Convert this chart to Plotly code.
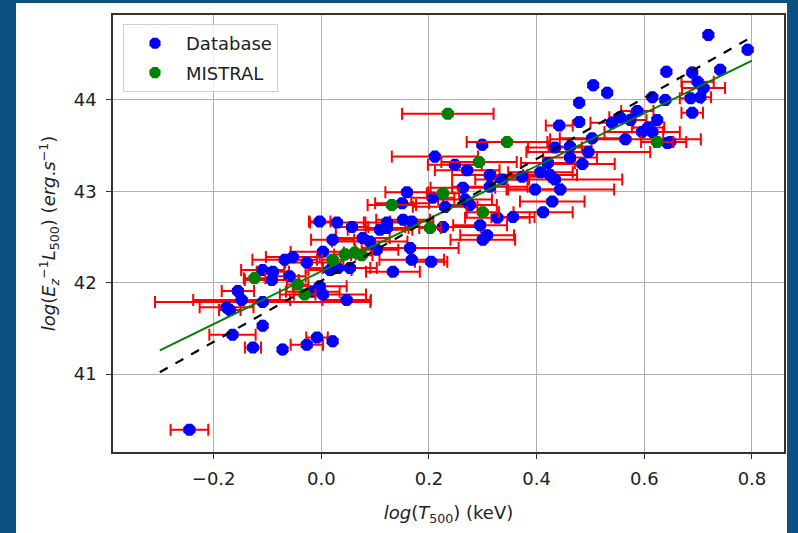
import plotly.graph_objects as go

# ---- Database points (log T500, log L500) ----
db_x = [-0.245, -0.155, -0.170, -0.165, -0.127, -0.109, -0.109, -0.072, -0.027, -0.008,
        0.021, -0.016, 0.003, 0.047, -0.148, -0.176, -0.092, -0.109, -0.090, -0.068,
        -0.053, -0.027, -0.059, -0.003, 0.003, 0.021, -0.003, 0.029, 0.057, 0.109,
        0.122, 0.152, 0.168, 0.077, 0.090, 0.103, 0.053, 0.016, 0.031, 0.165,
        0.168, 0.133, 0.159, 0.204, 0.299, 0.211, 0.248, 0.271, 0.313, 0.336,
        0.373, 0.207, 0.263, 0.267, 0.313, 0.150, 0.230, 0.276, 0.327, 0.356,
        0.226, 0.295, 0.308, 0.122, 0.300, 0.505, 0.531, 0.479, 0.479, 0.442,
        0.641, 0.615, 0.639, 0.587, 0.555, 0.540, 0.574, 0.624, 0.607, 0.596,
        0.615, 0.565, 0.643, 0.503, 0.462, 0.434, 0.496, 0.462, 0.485, 0.421,
        0.407, 0.425, 0.434, 0.397, 0.444, 0.429, 0.412, 0.719, 0.792, 0.741,
        0.689, 0.699, 0.710, 0.704, 0.686, 0.689, 0.648]
db_y = [40.39, 41.91, 41.70, 41.43, 41.29, 41.53, 41.79, 41.27, 41.32, 41.40,
        41.36, 41.90, 41.87, 41.81, 41.81, 41.73, 42.03, 42.14, 42.12, 42.25,
        42.28, 42.22, 42.07, 41.96, 42.34, 42.47, 42.67, 42.66, 42.61, 42.58,
        42.66, 42.69, 42.67, 42.49, 42.45, 42.36, 42.16, 42.14, 42.16, 42.38,
        42.25, 42.12, 42.99, 42.23, 43.51, 43.38, 43.29, 43.23, 43.18, 43.13,
        43.16, 42.93, 43.04, 42.91, 43.05, 42.87, 42.83, 42.85, 42.71, 42.72,
        42.61, 42.63, 42.52, 42.60, 42.47, 44.16, 44.08, 43.97, 43.76, 43.72,
        44.31, 44.03, 44.00, 43.88, 43.81, 43.75, 43.78, 43.78, 43.70, 43.65,
        43.65, 43.57, 43.53, 43.58, 43.49, 43.48, 43.43, 43.37, 43.30, 43.31,
        43.21, 43.18, 43.13, 43.02, 43.02, 42.89, 42.77, 44.71, 44.55, 44.33,
        44.30, 44.20, 44.13, 44.03, 44.02, 43.86, 43.54]
db_xerr = [0.035, 0.030, 0.020, 0.043, 0.015, 0.0, 0.200, 0.0, 0.030, 0.020,
           0.0, 0.050, 0.080, 0.045, 0.090, 0.050, 0.050, 0.040, 0.030, 0.060,
           0.050, 0.040, 0.030, 0.050, 0.060, 0.040, 0.020, 0.050, 0.030, 0.060,
           0.040, 0.050, 0.040, 0.050, 0.070, 0.040, 0.050, 0.040, 0.060, 0.090,
           0.060, 0.050, 0.040, 0.030, 0.0, 0.080, 0.050, 0.060, 0.070, 0.050,
           0.050, 0.040, 0.060, 0.050, 0.070, 0.050, 0.060, 0.050, 0.060, 0.040,
           0.070, 0.050, 0.050, 0.040, 0.060, 0.0, 0.0, 0.0, 0.0, 0.025,
           0.0, 0.0, 0.0, 0.030, 0.020, 0.040, 0.030, 0.0, 0.030, 0.070,
           0.020, 0.140, 0.0, 0.060, 0.040, 0.050, 0.115, 0.050, 0.060, 0.050,
           0.060, 0.050, 0.125, 0.050, 0.100, 0.060, 0.055, 0.0, 0.0, 0.0,
           0.0, 0.030, 0.040, 0.020, 0.020, 0.020, 0.030]

# ---- MISTRAL points ----
mi_x = [-0.124, -0.044, -0.031, 0.021, 0.044, 0.062, 0.075, 0.131, 0.235, 0.345,
        0.293, 0.226, 0.202, 0.300, 0.624]
mi_y = [42.05, 41.98, 41.87, 42.25, 42.31, 42.33, 42.30, 42.85, 43.85, 43.54,
        43.32, 42.98, 42.60, 42.77, 43.54]
mi_xerr = [0.020, 0.020, 0.020, 0.020, 0.020, 0.020, 0.020, 0.045, 0.085, 0.075,
           0.070, 0.030, 0.020, 0.030, 0.030]

# ---- Fit lines ----
fit_x = [-0.30, 0.80]
fit_all_y = [41.02, 44.69]
fit_mistral_y = [41.26, 44.43]

x_ticks = [-0.2, 0.0, 0.2, 0.4, 0.6, 0.8]
x_ticklabels = ["−0.2", "0.0", "0.2", "0.4", "0.6", "0.8"]
y_ticks = [41, 42, 43, 44]

FONT = "DejaVu Sans"
FS = 18
TXT = "#222222"

fig = go.Figure()
fig.add_trace(go.Scatter(
    x=db_x, y=db_y, mode="markers", name="Database", legendgroup="db",
    marker=dict(symbol="octagon", size=13, color="#0000ff", line=dict(width=0)),
    error_x=dict(type="data", array=db_xerr, color="#ff0000", thickness=2, width=6),
    error_y=dict(type="constant", value=0.02, color="#ff0000", thickness=1.5, width=6),
))
fig.add_trace(go.Scatter(
    x=mi_x, y=mi_y, mode="markers", name="MISTRAL", legendgroup="mi",
    marker=dict(symbol="octagon", size=13, color="#008000", line=dict(width=0)),
    error_x=dict(type="data", array=mi_xerr, color="#ff0000", thickness=2, width=6),
    error_y=dict(type="constant", value=0.02, color="#ff0000", thickness=1.5, width=6),
))
fig.add_trace(go.Scatter(
    x=fit_x, y=fit_mistral_y, mode="lines", showlegend=False,
    line=dict(color="#008000", width=2),
))
fig.add_trace(go.Scatter(
    x=fit_x, y=fit_all_y, mode="lines", showlegend=False,
    line=dict(color="#000000", width=2.2, dash="dash"),
))

L, R, T, B = 113, 14, 15, 81
W, H = 798, 533
pw, ph = W - L - R, H - T - B

fig.update_layout(
    width=W, height=H,
    margin=dict(l=L, r=R, t=T, b=B, pad=0),
    paper_bgcolor="#0b5283",
    plot_bgcolor="#ffffff",
    font=dict(family=FONT, size=FS, color=TXT),
    showlegend=True,
    legend=dict(
        x=(123 - L) / pw, y=(H - B - 24) / ph, xanchor="left", yanchor="top",
        bgcolor="rgba(255,255,255,0.8)", bordercolor="#d0d0d0", borderwidth=1,
        font=dict(family=FONT, size=FS, color=TXT),
        itemsizing="constant", itemwidth=52,
        traceorder="grouped", tracegroupgap=3,
    ),
    shapes=[dict(
        type="rect", xref="paper", yref="paper", layer="below",
        x0=(16 - L) / pw, x1=(787 - L) / pw, y0=-0.3, y1=(H - B - 3) / ph,
        fillcolor="#ffffff", line=dict(width=0),
    )],
)
fig.update_xaxes(
    range=[-0.387, 0.8595], tickvals=x_ticks, ticktext=x_ticklabels,
    showgrid=True, gridcolor="#b0b0b0", gridwidth=1, zeroline=False,
    showline=True, linecolor="#333333", linewidth=1.5, mirror=True,
    ticks="outside", ticklen=5, tickcolor="#333333", ticklabelstandoff=5,
    tickfont=dict(family=FONT, size=FS, color=TXT),
    title=dict(text="<i>log</i>(<i>T</i><sub>500</sub>) (keV)",
               font=dict(family=FONT, size=FS, color=TXT), standoff=18),
)
fig.update_yaxes(
    range=[40.147, 44.93], tickvals=y_ticks,
    showgrid=True, gridcolor="#b0b0b0", gridwidth=1, zeroline=False,
    showline=True, linecolor="#333333", linewidth=1.5, mirror=True,
    ticks="outside", ticklen=5, tickcolor="#333333", ticklabelstandoff=6,
    tickfont=dict(family=FONT, size=FS, color=TXT),
    title=dict(text="<i>log</i>(<i>E</i><sub><i>z</i></sub><sup>−1</sup><i>L</i><sub>500</sub>) (<i>erg</i>.<i>s</i><sup>−1</sup>)",
               font=dict(family=FONT, size=FS, color=TXT), standoff=13),
)

fig.write_html("out.html")
